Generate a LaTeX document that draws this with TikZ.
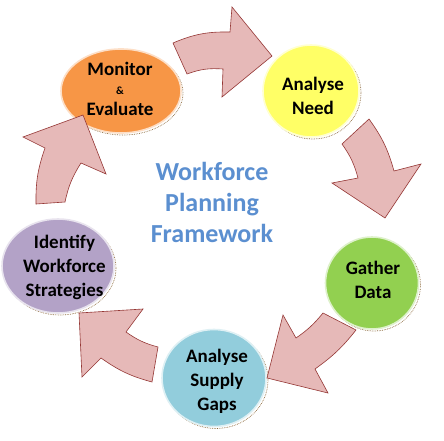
\documentclass[tikz,border=0pt]{standalone}
\usepackage{fontspec}
\setmainfont{Carlito}
\usetikzlibrary{shapes.geometric,shadows}
\definecolor{orangeC}{HTML}{F79646}
\definecolor{yellowC}{HTML}{FFFF66}
\definecolor{greenC}{HTML}{92D050}
\definecolor{blueC}{HTML}{92CDDC}
\definecolor{purpleC}{HTML}{B3A2C7}
\definecolor{arrowFill}{HTML}{E6B9B8}
\definecolor{arrowLine}{HTML}{953735}
\definecolor{titleC}{HTML}{5B8FD0}
\definecolor{shadowC}{HTML}{8C6A3C}
\begin{document}
\begin{tikzpicture}[x=1pt,y=1pt,
  bub/.style={ellipse, inner sep=0pt, line width=1.6pt,
    drop shadow={shadow xshift=2pt, shadow yshift=-2pt, fill=white, draw=shadowC,
      densely dotted, line width=0.7pt, opacity=1}},
  lbl/.style={align=center, inner sep=0pt, font=\fontsize{19}{24}\selectfont\bfseries, text=black},
  ttl/.style={align=center, inner sep=0pt, font=\fontsize{26}{31}\selectfont\bfseries, text=titleC},
  arr/.style={fill=arrowFill, draw=arrowLine, line width=0.6pt, line join=miter}]
\useasboundingbox (0,0) rectangle (444,-441);
\fill[white] (0,0) rectangle (444,-441);
% circles
\node[bub, fill=orangeC, draw=orangeC!30, minimum width=120, minimum height=84] (mon) at (121,-91) {};
\node[bub, fill=yellowC, draw=yellowC!30, minimum width=96, minimum height=92] (need) at (311,-91) {};
\node[bub, fill=greenC, draw=greenC!30, minimum width=93, minimum height=92] (gather) at (372,-283) {};
\node[bub, fill=blueC, draw=blueC!30, minimum width=104, minimum height=97] (supply) at (214,-378) {};
\node[bub, fill=purpleC, draw=purpleC!30, minimum width=112, minimum height=94] (ident) at (58,-266) {};
% labels
\node[lbl] (monT) at (120,-89) {Monitor\\[-5pt]{\fontsize{11}{11}\selectfont\&}\\[-3pt]Evaluate};
\node[lbl] (needT) at (313,-95.5) {Analyse\\Need};
\node[lbl] (gatherT) at (373,-280) {Gather\\Data};
\node[lbl] (supplyT) at (217,-381) {Analyse\\Supply\\Gaps};
\node[lbl] (identT) at (64.5,-267) {Identify\\Workforce\\Strategies};
\node[ttl] (title) at (212,-202.5) {Workforce\\Planning\\Framework};
% arrows
\draw[arr] (173,-43) to[bend left=12] (230,-32) -- (232,-7) -- (272,-56) -- (222,-97) -- (223,-69) to[bend right=12] (187,-74) -- cycle;
\draw[arr] (369,-119) to[bend left=10] (394,-171) -- (421,-164) -- (385,-218) -- (332,-183) -- (358,-178) to[bend right=10] (342,-144) -- cycle;
\draw[arr] (323,-313) to[bend left=8] (296,-338) -- (283,-315) -- (267,-378) -- (328,-393) -- (315,-369) to[bend right=8] (356,-330) -- cycle;
\draw[arr] (152,-382) to[bend left=10] (101,-358) -- (82,-377) -- (79,-313) -- (143,-309) -- (126,-332) to[bend right=10] (158,-347) -- cycle;
\draw[arr] (65,-202) to[bend left=10] (81,-163) -- (106,-174) -- (83,-115) -- (23,-137) -- (45,-148) to[bend right=10] (36,-204) -- cycle;
\end{tikzpicture}
\end{document}
